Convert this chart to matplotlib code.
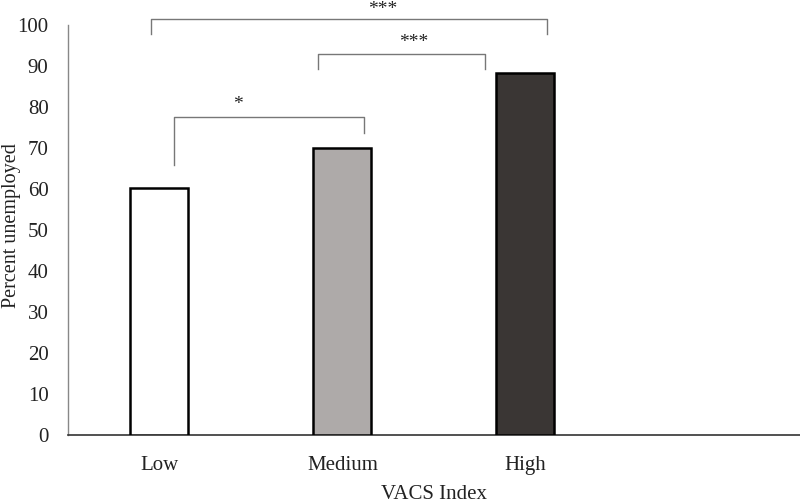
import matplotlib.pyplot as plt

# data
categories = ['Low', 'Medium', 'High', '']
values = [60.2, 69.9, 88.3, 0]
colors = ['#ffffff', '#aeaaa9', '#3a3634', '#ffffff']
yticks = list(range(0, 101, 10))

# significance brackets: (x_left, x_right, y_top, left_leg_end, right_leg_end, label, label_x, label_y)
brackets = [
    (-0.044, 2.12, 101.5, 97.8, 97.8, '***', 1.22, 101.6),
    (0.869, 1.781, 92.9, 89.3, 89.3, '***', 1.39, 93.7),
    (0.082, 1.12, 77.6, 65.9, 73.7, '*', 0.43, 78.5),
]

plt.rcParams['font.family'] = ['Liberation Serif', 'DejaVu Serif']

fig = plt.figure(figsize=(8, 5.03), dpi=100)
ax = fig.add_axes([0.085, 0.1352, 0.9144, 0.815])

x = list(range(len(categories)))
ax.bar(x[:3], values[:3], width=0.317, color=colors[:3],
       edgecolor='black', linewidth=1.8, zorder=3)

ax.set_xlim(-0.5, 3.5)
ax.set_ylim(0, 100)
ax.set_yticks(yticks)
ax.set_xticks(x[:3])
ax.set_xticklabels(categories[:3])
ax.tick_params(axis='both', length=0, labelsize=15, colors='#222222')
ax.tick_params(axis='y', pad=14)
ax.tick_params(axis='x', pad=15)

for s in ['top', 'right']:
    ax.spines[s].set_visible(False)
ax.spines['left'].set_color('#888888')
ax.spines['left'].set_linewidth(1.0)
ax.spines['bottom'].set_color('#333333')
ax.spines['bottom'].set_linewidth(1.2)

ax.set_ylabel('Percent unemployed', fontsize=14.5, color='#222222')
ax.set_xlabel('VACS Index', fontsize=15, color='#222222')
ax.xaxis.set_label_coords(0.501, -0.123)
ax.yaxis.set_label_coords(-0.064, 0.512)

for xl, xr, yt, yl, yr, lab, lx, ly in brackets:
    ax.plot([xl, xl, xr, xr], [yl, yt, yt, yr], color='#777777', lw=1.0,
            clip_on=False, zorder=4)
    ax.text(lx, ly, lab, ha='center', va='bottom', fontsize=14,
            color='#222222', clip_on=False)

fig.savefig('out.png', dpi=100)
